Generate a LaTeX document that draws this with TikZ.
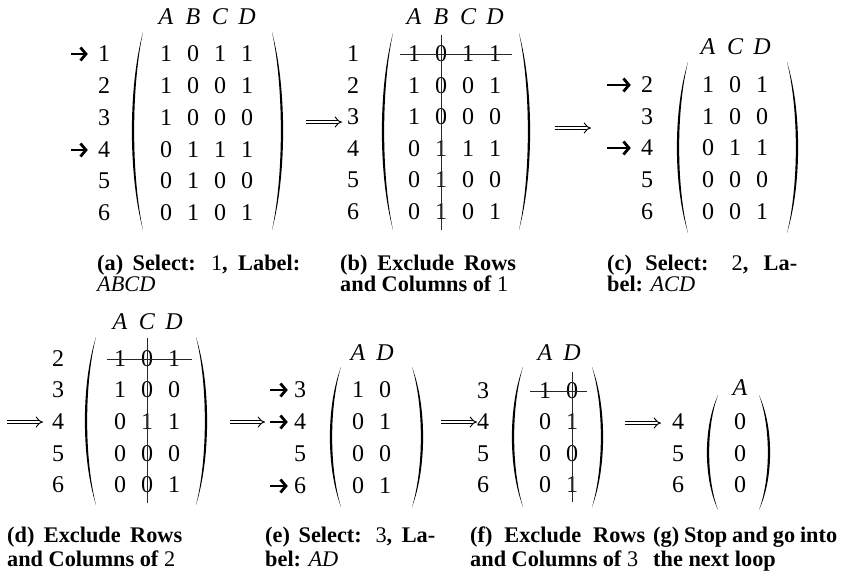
\documentclass[tikz,border=0pt]{standalone}
\usepackage{fontspec}
\setmainfont{Liberation Serif}
\usetikzlibrary{arrows.meta}
\newcommand{\fsz}{\fontsize{24}{28}\selectfont}
\newcommand{\csz}{\fontsize{22.3}{26}\selectfont}
\tikzset{
  ent/.style={font=\fsz, inner sep=0pt, anchor=center},
  hdr/.style={font=\fsz\itshape, inner sep=0pt, anchor=center},
  captext/.style={font=\csz\bfseries, inner sep=0pt, anchor=base west},
  sel/.style={line width=1.7pt, -{Straight Barb[length=5.5pt,width=13pt,line width=2.8pt]}},
  impl/.style={double, double distance=2.8pt, line width=0.95pt, -{Implies[scale=1.6]}},
  strike/.style={line width=0.9pt, black!85},
  paren/.style={fill=black},
}
% #1 name, #2 x of first column, #3 header y, #4 header letters, #5 label x, #6 rows lab/y/{vals}
\newcommand{\mpanel}[6]{%
  \foreach \h [count=\c] in {#4} {\node[hdr] (#1-h\c) at ({#2+27*(\c-1)},#3) {\h};}
  \foreach \lab/\yy/\vals in {#6} {
    \node[ent] (#1-r\lab) at (#5,\yy) {\lab};
    \foreach \v [count=\c] in \vals {\node[ent] (#1-\lab-\c) at ({#2+27*(\c-1)},\yy) {\v};}
  }
}
\newcommand{\lpar}[3]{%
  \fill[paren] (#1+11,#2) .. controls (#1-3.8,{#2+0.28*(#3-#2)}) and (#1-3.8,{#3-0.28*(#3-#2)}) .. (#1+11,#3)
     .. controls (#1-0.8,{#3-0.28*(#3-#2)}) and (#1-0.8,{#2+0.28*(#3-#2)}) .. (#1+11,#2) -- cycle;}
\newcommand{\rpar}[3]{%
  \fill[paren] (#1-11,#2) .. controls (#1+3.8,{#2+0.28*(#3-#2)}) and (#1+3.8,{#3-0.28*(#3-#2)}) .. (#1-11,#3)
     .. controls (#1+0.8,{#3-0.28*(#3-#2)}) and (#1+0.8,{#2+0.28*(#3-#2)}) .. (#1-11,#2) -- cycle;}
\begin{document}
\begin{tikzpicture}[x=1pt,y=-1pt]
\useasboundingbox (0,0) rectangle (843,576);

% ---------- (a)
\mpanel{a}{166}{17}{A,B,C,D}{104}{1/54/{1,0,1,1},2/86/{1,0,0,1},3/118/{1,0,0,0},4/150/{0,1,1,1},5/181/{0,1,0,0},6/213/{0,1,0,1}}
\lpar{132}{32}{230}\rpar{283}{32}{230}
\coordinate (a-s1) at (71,54);
\coordinate (a-s4) at (71,150);
\draw[sel] (a-s1) -- ([xshift=-10pt]a-r1.west);
\draw[sel] (a-s4) -- ([xshift=-10pt]a-r4.west);
\coordinate (ab-s) at (306,122);
\coordinate (ab-e) at (342,122);
\draw[impl] (ab-s) -- (ab-e);

% ---------- (b)
\mpanel{b}{414}{17}{A,B,C,D}{353}{1/54/{1,0,1,1},2/86/{1,0,0,1},3/117/{1,0,0,0},4/149/{0,1,1,1},5/180/{0,1,0,0},6/212/{0,1,0,1}}
\lpar{382}{33}{230}\rpar{530}{33}{230}
\draw[strike] ([xshift=-14pt]b-1-1.center) -- ([xshift=17pt]b-1-4.center);
\draw[strike] ([yshift=-18pt]b-h2.center) -- ([yshift=-18pt]b-6-2.center);
\coordinate (bc-s) at (555,128);
\coordinate (bc-e) at (591,128);
\draw[impl] (bc-s) -- (bc-e);

% ---------- (c)
\mpanel{c}{708}{47}{A,C,D}{647}{2/85/{1,0,1},3/117/{1,0,0},4/148/{0,1,1},5/180/{0,0,0},6/212/{0,0,1}}
\lpar{677}{62}{233}\rpar{798}{62}{233}
\coordinate (c-s2) at (607,85);
\coordinate (c-s4) at (607,148);
\draw[sel] (c-s2) -- ([xshift=-10pt]c-r2.west);
\draw[sel] (c-s4) -- ([xshift=-10pt]c-r4.west);

% ---------- (d)
\coordinate (cd-s) at (7,422);
\coordinate (cd-e) at (43,422);
\draw[impl] (cd-s) -- (cd-e);
\mpanel{d}{120}{322}{A,C,D}{58}{2/359/{1,0,1},3/390/{1,0,0},4/422/{0,1,1},5/454/{0,0,0},6/485/{0,0,1}}
\lpar{85}{337}{505}\rpar{207}{337}{505}
\draw[strike] ([xshift=-13pt]d-2-1.center) -- ([xshift=18pt]d-2-3.center);
\draw[strike] ([yshift=-16pt]d-h2.center) -- ([yshift=-18pt]d-6-2.center);
\coordinate (de-s) at (230,422);
\coordinate (de-e) at (265,422);
\draw[impl] (de-s) -- (de-e);

% ---------- (e)
\mpanel{e}{358}{353}{A,D}{300}{3/390/{1,0},4/422/{0,1},5/454/{0,0},6/486/{0,1}}
\lpar{330}{367}{507}\rpar{423}{367}{507}
\coordinate (e-s3) at (270,390);
\coordinate (e-s4) at (270,422);
\coordinate (e-s6) at (270,486);
\draw[sel] (e-s3) -- ([xshift=-6pt]e-r3.west);
\draw[sel] (e-s4) -- ([xshift=-6pt]e-r4.west);
\draw[sel] (e-s6) -- ([xshift=-6pt]e-r6.west);
\coordinate (ef-s) at (441,422);
\coordinate (ef-e) at (477,422);
\draw[impl] (ef-s) -- (ef-e);

% ---------- (f)
\mpanel{f}{545}{353}{A,D}{483}{3/391/{1,0},4/422/{0,1},5/454/{0,0},6/485/{0,1}}
\lpar{512}{367}{507}\rpar{603}{367}{507}
\draw[strike] ([xshift=-15pt]f-3-1.center) -- ([xshift=15pt]f-3-2.center);
\draw[strike] ([yshift=-19pt]f-h2.center) -- ([yshift=-17pt]f-6-2.center);
\coordinate (fg-s) at (625,423);
\coordinate (fg-e) at (661,423);
\draw[impl] (fg-s) -- (fg-e);

% ---------- (g)
\mpanel{g}{740}{388}{A}{678}{4/422/{0},5/454/{0},6/485/{0}}
\lpar{707}{395}{510}\rpar{770}{395}{510}

% ---------- captions
\node[captext] (capa1) at (97,270) {\makebox[203pt][s]{(a) Select: \textmd{1}, Label:}};
\node[captext] (capa2) at (97,291) {\mdseries\itshape ABCD};
\node[captext] (capb1) at (340,270) {\makebox[176pt][s]{(b) Exclude Rows}};
\node[captext] (capb2) at (340,291) {and Columns of \textmd{1}};
\node[captext] (capc1) at (607,270) {\makebox[190pt][s]{(c) Select: \textmd{2}, La-}};
\node[captext] (capc2) at (607,291) {bel: \textmd{\itshape ACD}};
\node[captext] (capd1) at (7,542) {\makebox[175pt][s]{(d) Exclude Rows}};
\node[captext] (capd2) at (7,566) {and Columns of \textmd{2}};
\node[captext] (cape1) at (265,542) {\makebox[170pt][s]{(e) Select: \textmd{3}, La-}};
\node[captext] (cape2) at (265,566) {bel: \textmd{\itshape AD}};
\node[captext] (capf1) at (470,542) {\makebox[175pt][s]{(f) Exclude Rows}};
\node[captext] (capf2) at (470,566) {and Columns of \textmd{3}};
\node[captext] (capg1) at (653,542) {\makebox[184pt][s]{(g) Stop and go into}};
\node[captext] (capg2) at (653,566) {the next loop};
\end{tikzpicture}
\end{document}
